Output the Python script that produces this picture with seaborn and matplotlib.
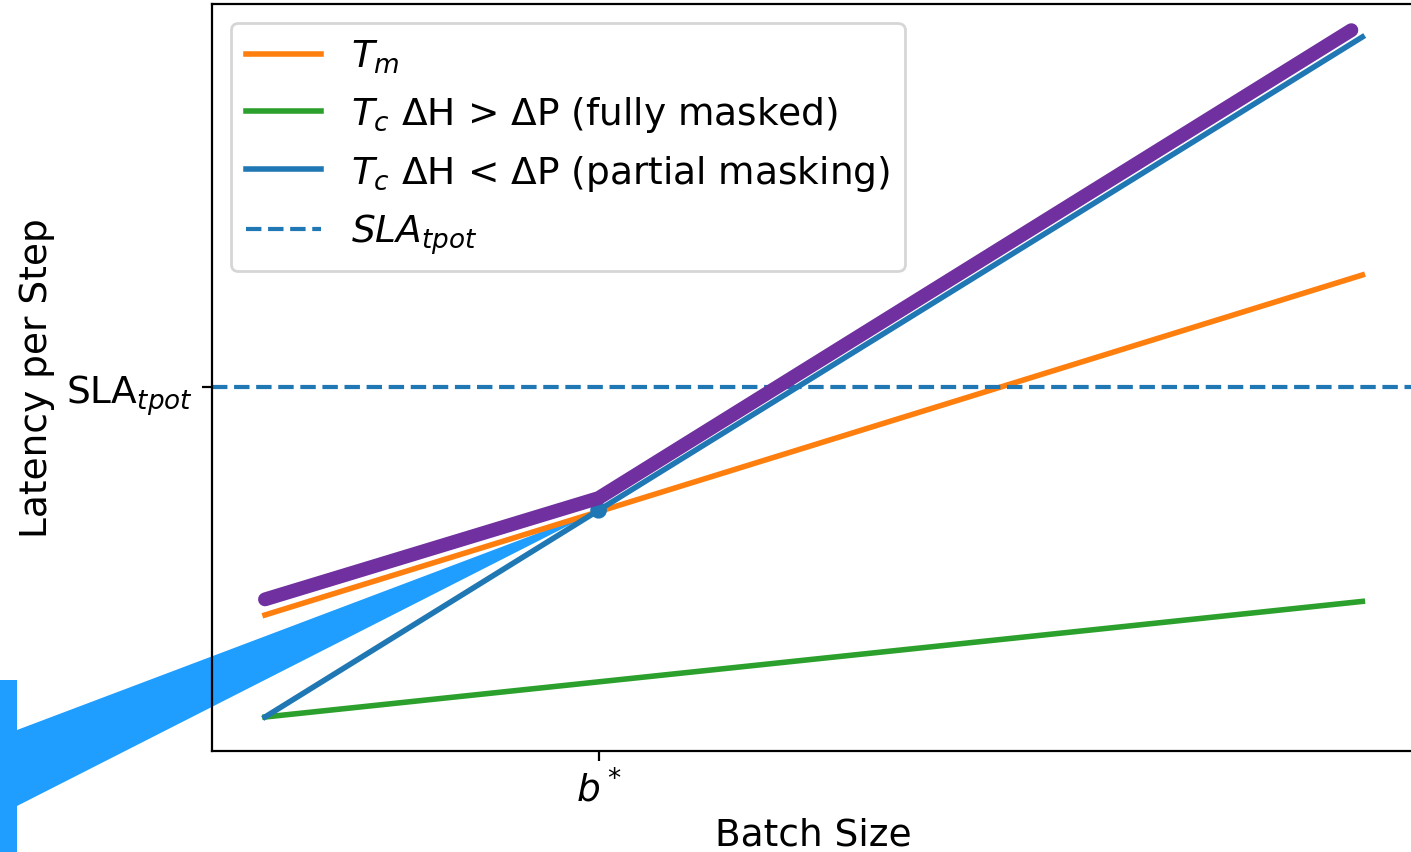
import numpy as np
import pandas as pd
import matplotlib
matplotlib.use("Agg")
import matplotlib.pyplot as plt
from matplotlib.patches import Polygon, Rectangle
from matplotlib.transforms import IdentityTransform
import seaborn as sns

# ---- data (arbitrary units) ----
batch = [0, 100]
t_m = [15, 65]                 # memory time (orange)
t_c_full = [0, 17]             # compute, fully masked (green)
t_c_partial = [0, 100]         # compute, partial masking (blue)
envelope_x = [0, 30.4, 99]     # purple envelope
envelope_y = [17.3, 32.2, 101]
b_star = 30.4
b_star_y = 30.4
sla_tpot = 48.5

x_tick_labels = ["$b^*$"]
y_tick_labels = ["SLA$_{tpot}$"]

FS = 13.5
fig = plt.figure(figsize=(7.055, 4.265), dpi=200)
ax = fig.add_axes([212 / 1411, 1 - 752 / 853, (1415 - 212) / 1411, (752 - 5) / 853])

sns.lineplot(x=batch, y=t_m, color="#ff7f0e", lw=2, label="$T_m$", ax=ax)
sns.lineplot(x=batch, y=t_c_full, color="#2ca02c", lw=2,
             label="$T_c$ ΔH > ΔP (fully masked)", ax=ax)
sns.lineplot(x=batch, y=t_c_partial, color="#1f77b4", lw=2,
             label="$T_c$ ΔH < ΔP (partial masking)", ax=ax)
ax.axhline(sla_tpot, color="#1f77b4", lw=1.5, ls="--", label="$SLA_{tpot}$")
sns.scatterplot(x=[b_star], y=[b_star_y], color="#1f77b4", s=36,
                edgecolor="none", ax=ax, zorder=3)
sns.lineplot(x=envelope_x, y=envelope_y, color="#7030a0", lw=5,
             solid_capstyle="round", solid_joinstyle="miter", ax=ax, zorder=4)

ax.set_xlim(-4.83, 104.8)
ax.set_ylim(-5.0, 104.85)
ax.set_xticks([b_star])
ax.set_xticklabels(x_tick_labels, fontsize=FS)
ax.set_yticks([sla_tpot])
ax.set_yticklabels(y_tick_labels, fontsize=FS)
ax.set_xlabel("Batch Size", fontsize=FS, labelpad=2.5)
ax.set_ylabel("Latency per Step", fontsize=FS)

ax.legend(loc="upper left", fontsize=FS)

# ---- light-blue callout wedge pointing at b* ----
fig.canvas.draw()
H = 853
tip = ax.transData.transform((b_star, b_star_y))
wedge_col = "#1f9eff"
wedge = Polygon([(0, H - 737), (17, H - 731), tip, (17, H - 807), (0, H - 815)],
                closed=True, transform=IdentityTransform(), facecolor=wedge_col,
                edgecolor="none", clip_on=False, zorder=1.5)
ax.add_artist(wedge)
bar = Rectangle((-20, -20), 37, H - 681 + 20, transform=IdentityTransform(),
                facecolor=wedge_col, edgecolor="none", clip_on=False, zorder=1.5)
ax.add_artist(bar)

fig.savefig("out.png", dpi=200)
